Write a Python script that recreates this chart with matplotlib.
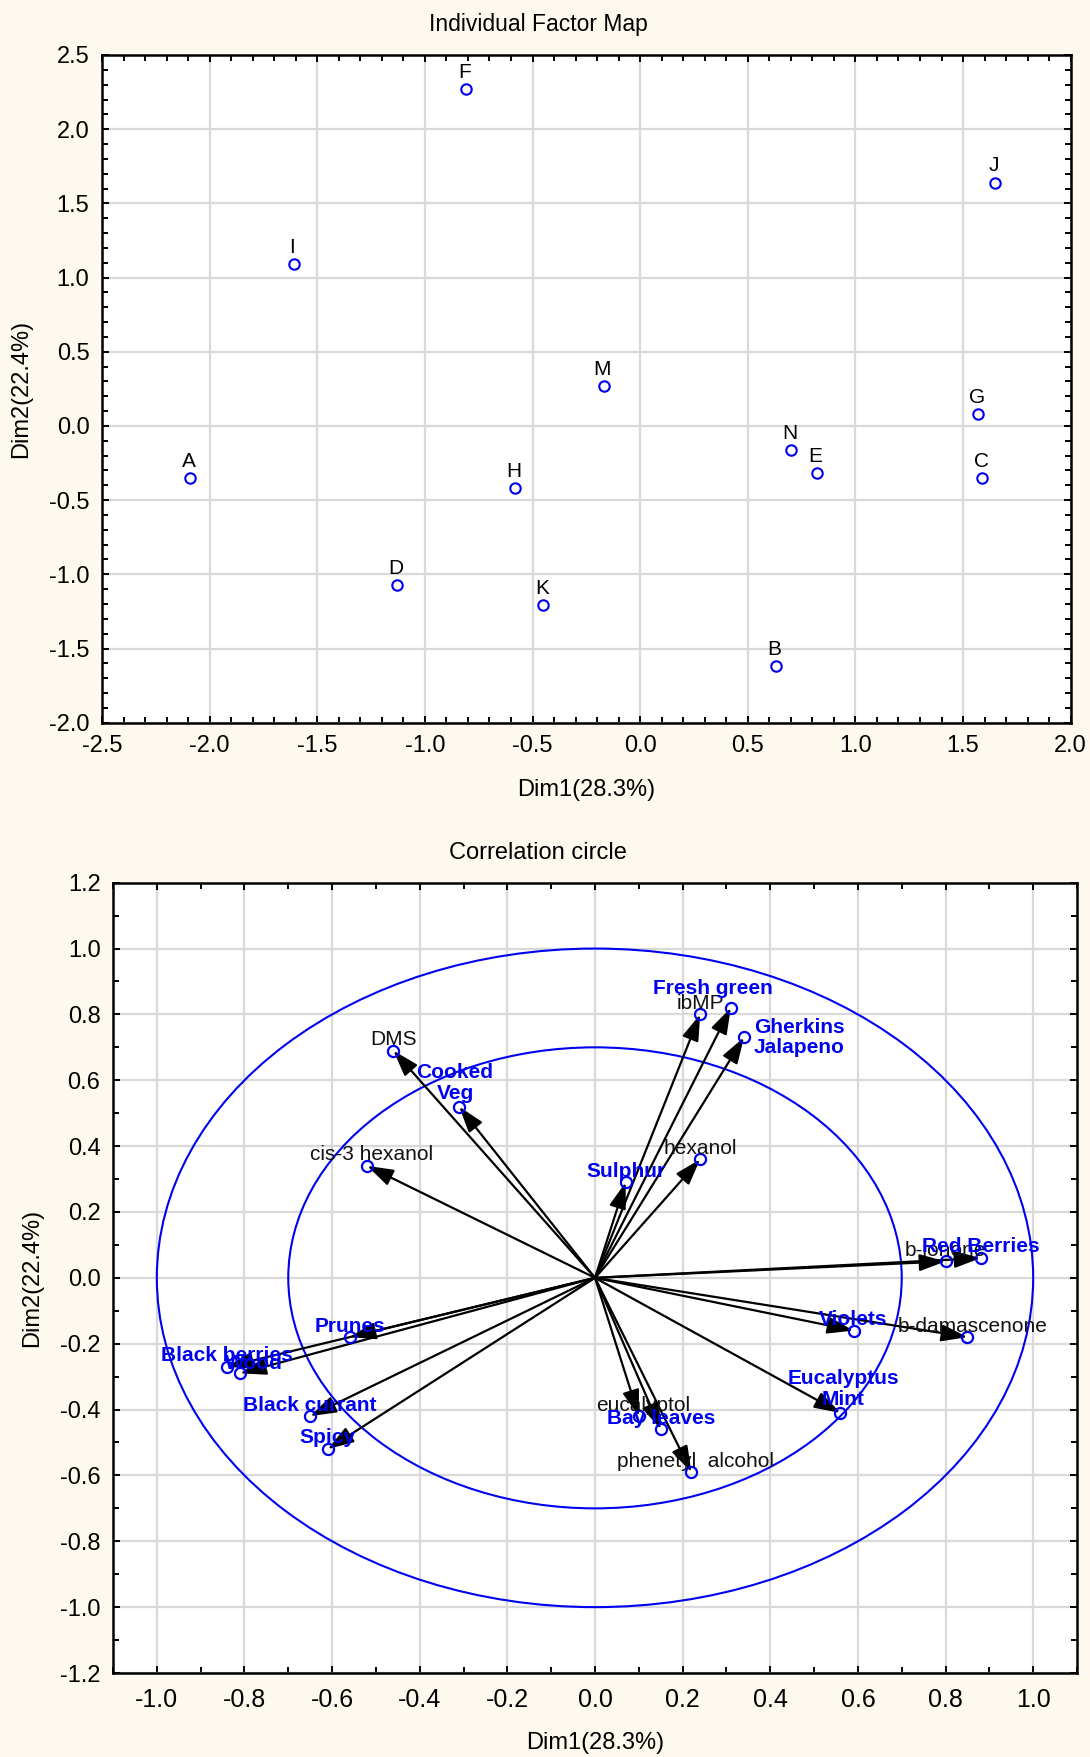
import matplotlib
matplotlib.use('Agg')
import matplotlib.pyplot as plt
from matplotlib.patches import Circle
from matplotlib.ticker import MultipleLocator

# individuals (scores on the first two dimensions)
samples = ['A', 'B', 'C', 'D', 'E', 'F', 'G', 'H', 'I', 'J', 'K', 'M', 'N']
dim1 = [-2.09, 0.63, 1.59, -1.13, 0.82, -0.81, 1.57, -0.58, -1.61, 1.65, -0.45, -0.17, 0.70]
dim2 = [-0.35, -1.62, -0.35, -1.07, -0.32, 2.27, 0.08, -0.42, 1.09, 1.64, -1.21, 0.27, -0.16]

# chemical variables (black labels)
chem_names = ['DMS', 'cis-3 hexanol', 'ibMP', 'hexanol', 'b-ionone', 'b-damascenone',
              'eucalyptol', 'phenetyl  alcohol']
chem_x = [-0.46, -0.52, 0.24, 0.24, 0.80, 0.85, 0.10, 0.22]
chem_y = [0.69, 0.34, 0.80, 0.36, 0.05, -0.18, -0.42, -0.59]

# sensory descriptors (blue bold labels)
sens_names = ['Fresh green', 'Gherkins\nJalapeno', 'Cooked\nVeg', 'Sulphur', 'Red Berries',
              'Violets', 'Eucalyptus\nMint', 'Bay leaves', 'Prunes', 'Black berries', 'Wood',
              'Black currant', 'Spicy']
sens_x = [0.31, 0.34, -0.31, 0.07, 0.88, 0.59, 0.56, 0.15, -0.56, -0.84, -0.81, -0.65, -0.61]
sens_y = [0.82, 0.73, 0.52, 0.29, 0.06, -0.16, -0.41, -0.46, -0.18, -0.27, -0.29, -0.42, -0.52]

# label placement (offset in points, horizontal alignment)
sens_offsets = {
    'Fresh green': ((-13, 14), 'center'),
    'Gherkins\nJalapeno': ((7, 0), 'left'),
    'Cooked\nVeg': ((-3, 17), 'center'),
    'Eucalyptus\nMint': ((2, 17), 'center'),
    'Wood': ((10, 7), 'center'),
}
chem_offsets = {
    'b-damascenone': ((4, 8), 'center'),
    'eucalyptol': ((3, 8), 'center'),
    'phenetyl  alcohol': ((3, 8), 'center'),
    'cis-3 hexanol': ((3, 8), 'center'),
}

BG = '#fef9ee'
BLUE = '#0000f0'
GRID = '#d9d9d9'
FONT = ['Liberation Sans', 'DejaVu Sans']

plt.rcParams['font.family'] = FONT


def style_axes(ax, major, minor):
    ax.set_facecolor('white')
    ax.xaxis.set_major_locator(MultipleLocator(major))
    ax.yaxis.set_major_locator(MultipleLocator(major))
    ax.xaxis.set_minor_locator(MultipleLocator(minor))
    ax.yaxis.set_minor_locator(MultipleLocator(minor))
    ax.grid(True, which='major', color=GRID, lw=1.6, zorder=0)
    ax.set_axisbelow(True)
    ax.tick_params(which='both', direction='in', top=True, right=True, width=1.4,
                   labelsize=17, pad=9)
    ax.tick_params(which='major', length=5)
    ax.tick_params(which='minor', length=4)
    ax.xaxis.set_major_formatter(lambda v, p: f'{v:.1f}')
    ax.yaxis.set_major_formatter(lambda v, p: f'{v:.1f}')
    for s in ax.spines.values():
        s.set_linewidth(1.8)


fig = plt.figure(figsize=(10.9, 17.57), dpi=100, facecolor=BG)

# ---- individual factor map
ax1 = fig.add_axes([102 / 1090, 1 - 722.7 / 1757, (1070.7 - 102) / 1090, (722.7 - 55) / 1757])
style_axes(ax1, 0.5, 0.1)
ax1.set_xlim(-2.5, 2.0)
ax1.set_ylim(-2.0, 2.5)
ax1.plot(dim1, dim2, 'o', ms=7.5, mfc='none', mec=BLUE, mew=1.5, zorder=3)
for name, x, y in zip(samples, dim1, dim2):
    ax1.annotate(name, (x, y), xytext=(-1, 12), textcoords='offset points',
                 ha='center', va='center', fontsize=15)
fig.text(538 / 1090, 1 - 24 / 1757, 'Individual Factor Map', fontsize=16.5,
         ha='center', va='center')
ax1.set_xlabel('Dim1(28.3%)', fontsize=17, labelpad=16)
ax1.set_ylabel('Dim2(22.4%)', fontsize=17, labelpad=12)

# ---- correlation circle
ax2 = fig.add_axes([113 / 1090, 1 - 1673 / 1757, (1077 - 113) / 1090, (1673 - 882.7) / 1757])
style_axes(ax2, 0.2, 0.1)
ax2.set_xlim(-1.1, 1.1)
ax2.set_ylim(-1.2, 1.2)
ax2.tick_params(axis='x', labelsize=18, pad=11)

for r in (1.0, 0.7):
    ax2.add_patch(Circle((0, 0), r, fill=False, ec=BLUE, lw=1.5, zorder=2))

for x, y in zip(chem_x + sens_x, chem_y + sens_y):
    ax2.annotate('', xy=(x, y), xytext=(0, 0),
                 arrowprops=dict(arrowstyle='-|>,head_length=0.8,head_width=0.26',
                                 mutation_scale=20, lw=1.6, color='black',
                                 shrinkA=0, shrinkB=0), zorder=4)

ax2.plot(chem_x + sens_x, chem_y + sens_y, 'o', ms=8, mfc='none', mec=BLUE, mew=1.6, zorder=5)

for name, x, y in zip(chem_names, chem_x, chem_y):
    off, ha = chem_offsets.get(name, ((0, 8), 'center'))
    ax2.annotate(name, (x, y), xytext=off, textcoords='offset points',
                 ha=ha, va='center', fontsize=15, color='#111111', zorder=6)

for name, x, y in zip(sens_names, sens_x, sens_y):
    off, ha = sens_offsets.get(name, ((0, 8), 'center'))
    ax2.annotate(name, (x, y), xytext=off, textcoords='offset points', ha=ha,
                 va='center', fontsize=15, fontweight='bold', color=BLUE,
                 linespacing=1.1, zorder=6)

fig.text(538 / 1090, 1 - 853 / 1757, 'Correlation circle', fontsize=17,
         ha='center', va='center')
ax2.set_xlabel('Dim1(28.3%)', fontsize=17, labelpad=14)
ax2.set_ylabel('Dim2(22.4%)', fontsize=17, labelpad=12)

fig.savefig('out.png', dpi=100, facecolor=BG)
